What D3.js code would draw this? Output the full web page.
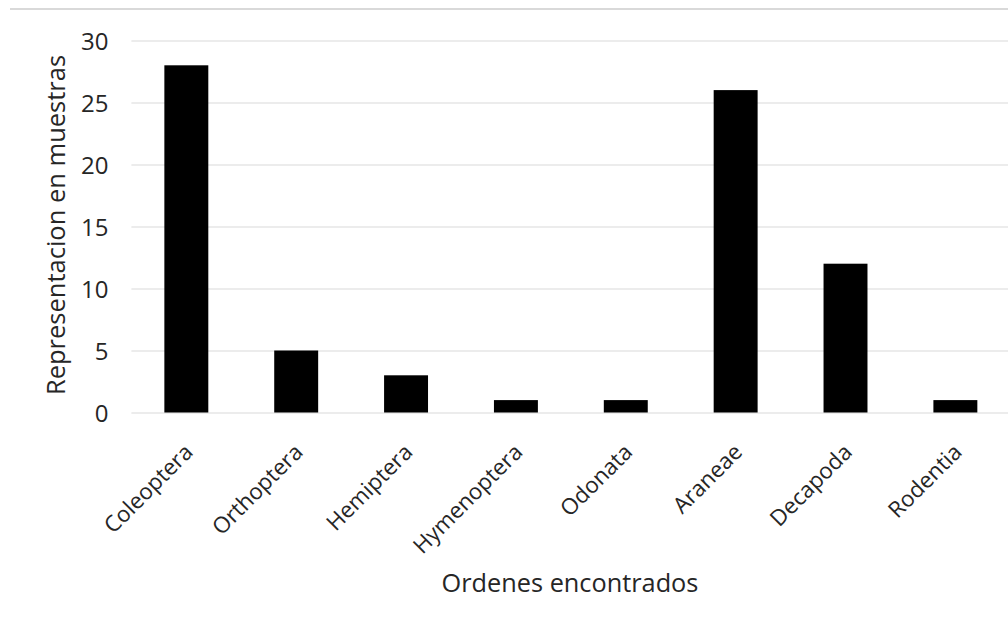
<!DOCTYPE html>
<html>
<head>
<meta charset="utf-8">
<script src="https://cdn.jsdelivr.net/npm/d3@7"></script>
<style>
  html, body { margin: 0; padding: 0; background: #fff; }
  svg { display: block; }
  text { font-family: "Open Sans", Lato, sans-serif; fill: #262626; }
</style>
</head>
<body>
<svg id="chart" width="1008" height="630"></svg>
<script>
// Orders found and how often each appeared in the samples
const categories = ["Coleoptera", "Orthoptera", "Hemiptera", "Hymenoptera", "Odonata", "Araneae", "Decapoda", "Rodentia"];
const counts = [28, 5, 3, 1, 1, 26, 12, 1];
const yTicks = [0, 5, 10, 15, 20, 25, 30];
const yTitle = "Representacion en muestras";
const xTitle = "Ordenes encontrados";

const svg = d3.select("#chart");

const plotLeft = 131.4, plotRight = 1010.3, plotTop = 40.5, plotBottom = 412.5;

const x = d3.scaleBand()
  .domain(categories)
  .range([plotLeft, plotRight])
  .paddingInner(0.6)
  .paddingOuter(0.3);

const y = d3.scaleLinear()
  .domain([0, 30])
  .range([plotBottom, plotTop]);

// frame line across the top
svg.append("line")
  .attr("x1", 10).attr("x2", 1008)
  .attr("y1", 9).attr("y2", 9)
  .attr("stroke", "#d9d9d9").attr("stroke-width", 2);

// horizontal gridlines with value labels
const yAxis = d3.axisLeft(y)
  .tickValues(yTicks)
  .tickSize(-(1008 - plotLeft))
  .tickPadding(23)
  .tickFormat(d3.format("d"));

const gy = svg.append("g")
  .attr("transform", `translate(${plotLeft},0)`)
  .call(yAxis);
gy.select(".domain").remove();
gy.selectAll(".tick line").attr("stroke", "#d9d9d9").attr("stroke-width", 1);
gy.selectAll(".tick text")
  .attr("font-size", 24)
  .attr("font-family", "\"Open Sans\", sans-serif")
  .attr("dy", "0.36em")
  .style("fill", "#262626");

// bars
svg.append("g")
  .selectAll("rect")
  .data(categories)
  .join("rect")
  .attr("x", d => x(d))
  .attr("width", x.bandwidth())
  .attr("y", (d, i) => y(counts[i]))
  .attr("height", (d, i) => y(0) - y(counts[i]))
  .attr("fill", "#000");

// rotated category labels
svg.append("g")
  .selectAll("text")
  .data(categories)
  .join("text")
  .attr("transform", d => `translate(${x(d) + x.bandwidth() / 2 + 8},${plotBottom + 41}) rotate(-45)`)
  .attr("text-anchor", "end")
  .attr("font-size", 22.3)
  .text(d => d);

// axis titles
svg.append("text")
  .attr("transform", `translate(65,225) rotate(-90)`)
  .attr("text-anchor", "middle")
  .attr("font-size", 25.5)
  .text(yTitle);

svg.append("text")
  .attr("x", 570)
  .attr("y", 592)
  .attr("text-anchor", "middle")
  .attr("font-size", 25.3)
  .text(xTitle);
</script>
</body>
</html>
